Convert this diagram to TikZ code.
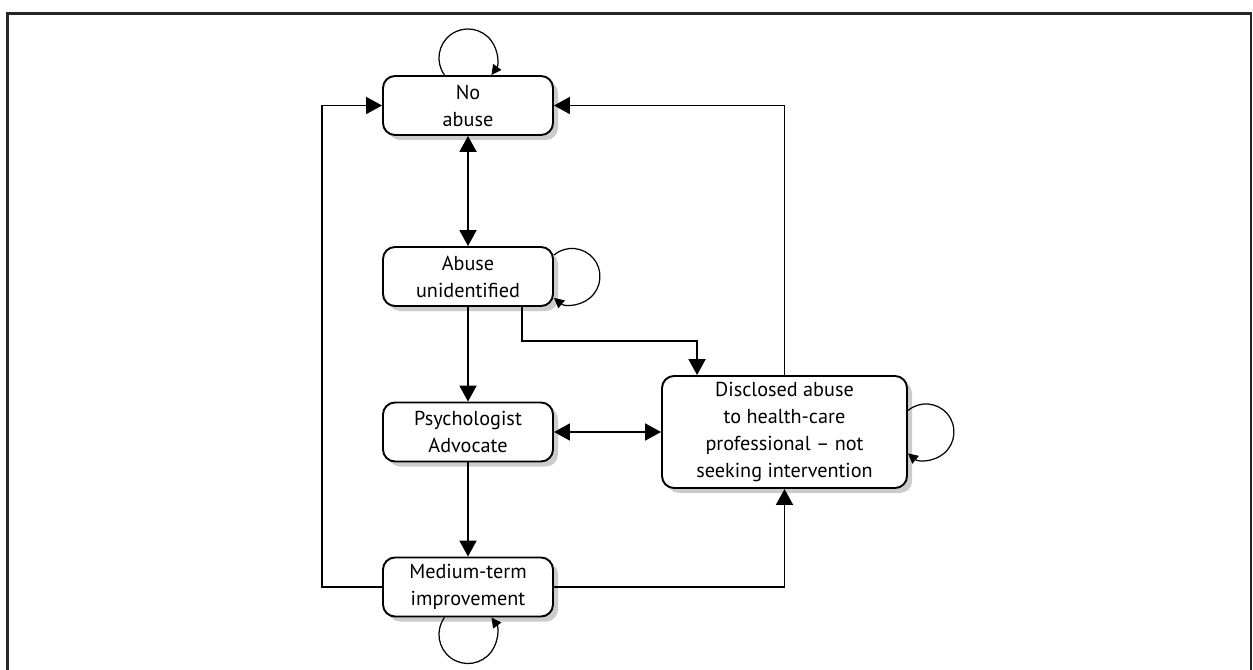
\documentclass[tikz,border=0pt]{standalone}
\usepackage{fontspec}
\setmainfont{PT Sans}
\usetikzlibrary{arrows.meta,shadows}

\tikzset{
  state/.style={draw=black, line width=1.1pt, rounded corners=0.24cm, fill=white,
    minimum width=3.4cm, minimum height=1.18cm, align=center, inner sep=0pt,
    font=\fontsize{11.5}{15.4}\selectfont,
    drop shadow={shadow xshift=0.1cm, shadow yshift=-0.1cm, fill=black!20, opacity=1}},
  flow/.style={line width=1.1pt, -{Triangle[length=0.32cm,width=0.34cm]}},
  twoway/.style={line width=1.1pt,
    {Triangle[length=0.32cm,width=0.34cm]}-{Triangle[length=0.32cm,width=0.34cm]}},
  selfloop/.style={line width=0.7pt, -{Triangle[length=0.2cm,width=0.2cm]}},
}

\begin{document}
\begin{tikzpicture}
  \useasboundingbox (0,0) rectangle (25.06,-13.4);

  % outer frame
  \draw[line width=1.2pt, black!85] (0.15,-13.4) -- (0.15,-0.27) -- (25.02,-0.27) -- (25.02,-13.4);

  % states
  \node[state] (no)    at (9.36,-2.11)  {No\\abuse};
  \node[state] (abuse) at (9.36,-5.53)  {Abuse\\unidentified};
  \node[state] (psych) at (9.36,-8.64)  {Psychologist\\Advocate};
  \node[state] (med)   at (9.36,-11.74) {Medium-term\\improvement};
  \node[state, minimum width=4.9cm, minimum height=2.24cm] (disc) at (15.69,-8.64)
    {Disclosed abuse\\to health-care\\professional – not\\seeking intervention};

  % transitions
  \draw[twoway] (no) -- (abuse);
  \draw[flow] (abuse) -- (psych);
  \draw[flow] (psych) -- (med);
  \draw[twoway] (psych) -- (disc);
  \draw[flow] ([xshift=-0.64cm]abuse.south east) -- ++(0,-0.68) -| ([xshift=0.72cm]disc.north west);
  \draw[flow] (disc.north) |- (no.east);
  \draw[flow] (med.west) -- ++(-1.2,0) |- (no.west);
  \draw[flow] (med.east) -| (disc.south);

  % staying in the same state
  \draw[selfloop] ([xshift=-0.47cm]no.north) arc[start angle=216, end angle=-36, radius=0.58cm];
  \draw[selfloop] ([yshift=0.43cm]abuse.east) arc[start angle=130, end angle=-130, radius=0.56cm];
  \draw[selfloop] ([yshift=0.43cm]disc.east) arc[start angle=130, end angle=-130, radius=0.56cm];
  \draw[selfloop] ([xshift=-0.47cm]med.south) arc[start angle=144, end angle=396, radius=0.58cm];

\end{tikzpicture}
\end{document}
